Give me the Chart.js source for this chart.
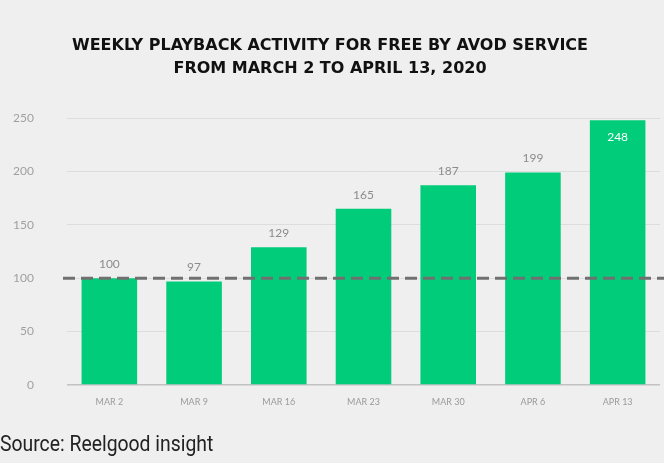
<!DOCTYPE html>
<html>
<head>
<meta charset="utf-8">
<script src="https://cdn.jsdelivr.net/npm/chart.js@4"></script>
<style>
    body { margin: 0; background: #efefef; }
    #wrap { position: relative; width: 664px; height: 463px; }
    #source {
        position: absolute; left: 0; top: 431px;
        font-family: Roboto, sans-serif; font-size: 22px; color: #222;
        transform: scaleX(0.88); transform-origin: left top;
    }
</style>
</head>
<body>
<div id="wrap">
    <canvas id="myChart" width="664" height="463"></canvas>
    <div id="source">Source: Reelgood insight</div>
</div>
<script>
let weeks = ['MAR 2', 'MAR 9', 'MAR 16', 'MAR 23', 'MAR 30', 'APR 6', 'APR 13'];
let playback = [100, 97, 129, 165, 187, 199, 248];
let baseline = 100;
let titleLines = ['WEEKLY PLAYBACK ACTIVITY FOR FREE BY AVOD SERVICE', 'FROM MARCH 2 TO APRIL 13, 2020'];

// dashed reference line at the baseline week
let baselinePlugin = {
    id: 'baselineLine',
    afterDatasetsDraw(chart) {
        let ctx = chart.ctx;
        let y = chart.scales.y.getPixelForValue(baseline);
        ctx.save();
        ctx.strokeStyle = '#707070';
        ctx.lineWidth = 3;
        ctx.setLineDash([12, 6]);
        ctx.beginPath();
        ctx.moveTo(chart.chartArea.left - 4, y);
        ctx.lineTo(chart.width, y);
        ctx.stroke();
        ctx.restore();
    }
};

// value labels, above the bars, inside for the tallest one
let valueLabels = {
    id: 'valueLabels',
    afterDatasetsDraw(chart) {
        let ctx = chart.ctx;
        let meta = chart.getDatasetMeta(0);
        let max = Math.max(...playback);
        ctx.save();
        ctx.font = '12px Lato, sans-serif';
        ctx.textAlign = 'center';
        ctx.textBaseline = 'middle';
        meta.data.forEach((bar, i) => {
            if (playback[i] === max) {
                ctx.fillStyle = '#ffffff';
                ctx.fillText(playback[i], bar.x, bar.y + 17);
            } else {
                ctx.fillStyle = '#8c8c8c';
                ctx.fillText(playback[i], bar.x, bar.y - 14);
            }
        });
        ctx.restore();
    }
};

let ctx = document.getElementById('myChart').getContext('2d');
new Chart(ctx, {
    type: 'bar',
    data: {
        labels: weeks,
        datasets: [{
            data: playback,
            backgroundColor: '#00cc7a',
            borderWidth: 0,
            barPercentage: 0.656,
            categoryPercentage: 1
        }]
    },
    options: {
        responsive: false,
        animation: false,
        layout: { padding: { left: 0, right: 4, top: 0, bottom: 0 } },
        plugins: {
            legend: { display: false },
            tooltip: { enabled: false },
            title: {
                display: true,
                text: titleLines,
                color: '#111111',
                font: { family: 'DejaVu Sans', size: 16, weight: 'bold', lineHeight: 1.44 },
                padding: { top: 34, bottom: 38 }
            }
        },
        scales: {
            x: {
                grid: { display: false },
                border: { display: false },
                ticks: {
                    color: '#9a9a9a',
                    font: { family: 'Lato', size: 9 },
                    padding: 4
                },
                afterFit(scale) { scale.height = 78; }
            },
            y: {
                min: 0,
                max: 250,
                border: { display: false },
                grid: {
                    drawTicks: false,
                    color: (c) => c.tick && c.tick.value === 0 ? '#c2c2c2' : '#dddddd',
                    lineWidth: (c) => c.tick && c.tick.value === 0 ? 1.5 : 1
                },
                ticks: {
                    stepSize: 50,
                    color: '#a0a0a0',
                    font: { family: 'Lato', size: 12 },
                    padding: 33
                },
                afterFit(scale) { scale.width = 67; }
            }
        }
    },
    plugins: [baselinePlugin, valueLabels]
});
</script>
</body>
</html>
